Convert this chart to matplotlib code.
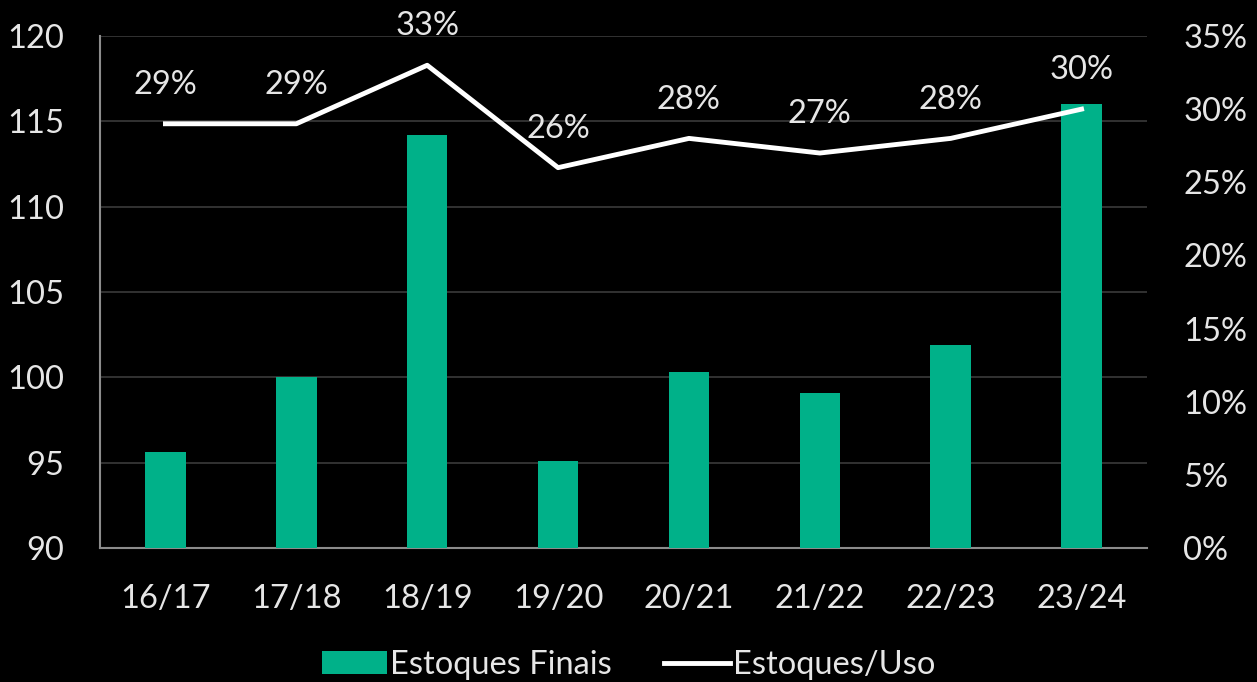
import matplotlib.pyplot as plt
import numpy as np

safras = ["16/17", "17/18", "18/19", "19/20", "20/21", "21/22", "22/23", "23/24"]
estoques_finais = [95.6, 100.0, 114.2, 95.1, 100.3, 99.1, 101.9, 116.0]
estoques_uso = [0.29, 0.29, 0.33, 0.26, 0.28, 0.27, 0.28, 0.30]

bar_color = "#00B189"
text_color = "#E6E6E6"
fs = 23.5

plt.rcParams['font.family'] = ['Lato', 'DejaVu Sans']

fig = plt.figure(figsize=(12.57, 6.82), dpi=100, facecolor="black")
ax = fig.add_axes([100 / 1257, 1 - 548 / 682, 1047 / 1257, 512 / 682])
ax.set_facecolor("black")
ax2 = ax.twinx()

x = np.arange(len(safras))
ax.bar(x, estoques_finais, width=0.31, color=bar_color, zorder=3, label="Estoques Finais")
ax.set_ylim(90, 120)
ax.set_xlim(-0.5, len(safras) - 0.5)
ax.set_yticks(range(90, 121, 5))
ax.yaxis.grid(True, color="#3a3a3a", linewidth=1.2, zorder=0)
ax.set_xticks(x)
ax.set_xticklabels(safras)
ax.tick_params(axis="both", colors=text_color, labelsize=fs, length=0)
ax.tick_params(axis="x", pad=26)
ax.tick_params(axis="y", pad=26)

ax2.plot(x, estoques_uso, color="white", linewidth=3.5, zorder=4, label="Estoques/Uso")
ax2.set_ylim(0, 0.35)
ax2.set_yticks(np.arange(0, 0.351, 0.05))
ax2.set_yticklabels([f"{int(round(v * 100))}%" for v in np.arange(0, 0.351, 0.05)])
ax2.tick_params(axis="y", colors=text_color, labelsize=fs, length=0, pad=26)
for xi, v in zip(x, estoques_uso):
    ax2.annotate(f"{int(round(v * 100))}%", (xi, v), xytext=(0, 28), textcoords="offset points",
                 ha="center", va="center", color=text_color, fontsize=fs)

for a in (ax, ax2):
    for side in ("top", "right"):
        a.spines[side].set_visible(False)
    a.spines["left"].set_color("#8c8c8c")
    a.spines["bottom"].set_color("#8c8c8c")
    a.spines["left"].set_linewidth(1.5)
    a.spines["bottom"].set_linewidth(1.5)
ax2.spines["left"].set_visible(False)
ax2.spines["bottom"].set_visible(False)

h1, l1 = ax.get_legend_handles_labels()
h2, l2 = ax2.get_legend_handles_labels()
leg = fig.legend(h1 + h2, l1 + l2, loc="center", bbox_to_anchor=(0.5, 1 - 665 / 682), ncol=2,
                 frameon=False, fontsize=fs, labelcolor=text_color, handlelength=2.0,
                 handletextpad=0.1, columnspacing=1.6)

fig.savefig("out.png", dpi=100, facecolor="black")
